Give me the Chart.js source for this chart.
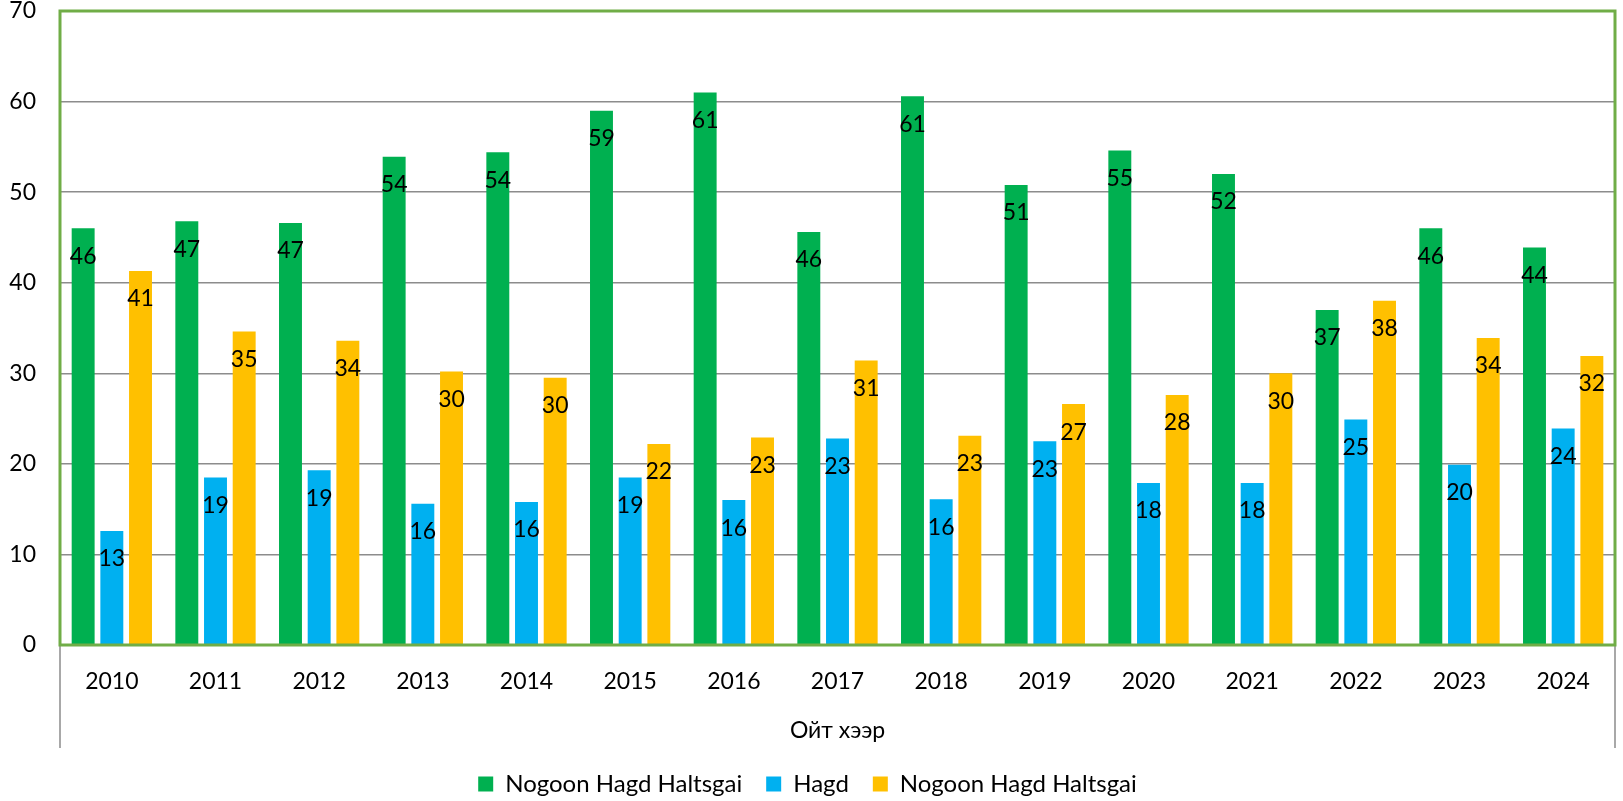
<!DOCTYPE html>
<html>
<head>
<meta charset="utf-8">
<script src="https://cdn.jsdelivr.net/npm/chart.js@4.4.0/dist/chart.umd.min.js"></script>
<style>
  html, body { margin: 0; padding: 0; background: #fff; }
  #wrap { width: 1623px; height: 801px; position: relative; }
</style>
</head>
<body>
<div id="wrap"><canvas id="chart"></canvas></div>
<script>
const years = ['2010','2011','2012','2013','2014','2015','2016','2017','2018','2019','2020','2021','2022','2023','2024'];
const greenSeries = [46.0, 46.8, 46.6, 53.9, 54.4, 59.0, 61.0, 45.6, 60.6, 50.8, 54.6, 52.0, 37.0, 46.0, 43.9];
const blueSeries = [12.6, 18.5, 19.3, 15.6, 15.8, 18.5, 16.0, 22.8, 16.1, 22.5, 17.9, 17.9, 24.9, 19.9, 23.9];
const yellowSeries = [41.3, 34.6, 33.6, 30.2, 29.5, 22.2, 22.9, 31.4, 23.1, 26.6, 27.6, 30.0, 38.0, 33.9, 31.9];
const seriesNames = ['Nogoon Hagd Haltsgai', 'Hagd', 'Nogoon Hagd Haltsgai'];
const axisTitle = 'Ойт хээр';

const FONT = 'Lato';

// value labels just inside the bar top, plus Excel-style frame and group lines
const excelDecor = {
  id: 'excelDecor',
  beforeDatasetsDraw(chart) {
    const { ctx, chartArea: a } = chart;
    ctx.save();
    ctx.strokeStyle = '#8c8c8c';
    ctx.lineWidth = 1.5;
    ctx.beginPath();
    ctx.moveTo(a.left, a.bottom);
    ctx.lineTo(a.left, a.bottom + 103);
    ctx.moveTo(a.right, a.bottom);
    ctx.lineTo(a.right, a.bottom + 103);
    ctx.stroke();
    ctx.restore();
  },
  afterDatasetsDraw(chart) {
    const { ctx, chartArea: a } = chart;
    ctx.save();
    ctx.font = '23px ' + FONT;
    ctx.fillStyle = '#000';
    ctx.textAlign = 'center';
    ctx.textBaseline = 'middle';
    chart.data.datasets.forEach((ds, i) => {
      chart.getDatasetMeta(i).data.forEach((bar, j) => {
        ctx.fillText(String(Math.round(ds.data[j])), bar.x, bar.y + 28);
      });
    });
    ctx.strokeStyle = '#70AD47';
    ctx.lineWidth = 3;
    ctx.strokeRect(a.left, a.top, a.right - a.left, a.bottom - a.top);
    ctx.restore();
  }
};

new Chart(document.getElementById('chart'), {
  type: 'bar',
  data: {
    labels: years,
    datasets: [
      { label: seriesNames[0], data: greenSeries, backgroundColor: '#00B050' },
      { label: seriesNames[1], data: blueSeries, backgroundColor: '#00B0F0' },
      { label: seriesNames[2], data: yellowSeries, backgroundColor: '#FFC000' }
    ]
  },
  options: {
    responsive: true,
    maintainAspectRatio: false,
    animation: false,
    categoryPercentage: 0.83,
    barPercentage: 0.8,
    layout: { padding: { top: 11, right: 8, bottom: 5, left: 0 } },
    plugins: {
      tooltip: { enabled: false },
      legend: {
        position: 'bottom',
        maxHeight: 48,
        labels: {
          font: { family: FONT, size: 24 },
          color: '#000',
          boxWidth: 15,
          boxHeight: 15,
          padding: 24
        }
      }
    },
    scales: {
      x: {
        grid: { display: false },
        border: { display: false },
        ticks: { font: { family: FONT, size: 23 }, color: '#000', padding: 15 },
        title: { display: true, text: axisTitle, font: { family: FONT, size: 23 }, color: '#000', padding: { top: 4, bottom: 4 } },
        afterFit(axis) {
          axis.height = 103;
          axis.paddingLeft = 0;
          axis.paddingRight = 0;
        }
      },
      y: {
        min: 0,
        max: 70,
        ticks: { stepSize: 10, font: { family: FONT, size: 23 }, color: '#000', padding: 24 },
        grid: { color: '#8c8c8c', lineWidth: 1.5, drawTicks: false },
        border: { display: false },
        afterFit(axis) {
          axis.width = 60;
          axis.paddingTop = 0;
          axis.paddingBottom = 0;
        }
      }
    }
  },
  plugins: [excelDecor]
});
</script>
</body>
</html>
